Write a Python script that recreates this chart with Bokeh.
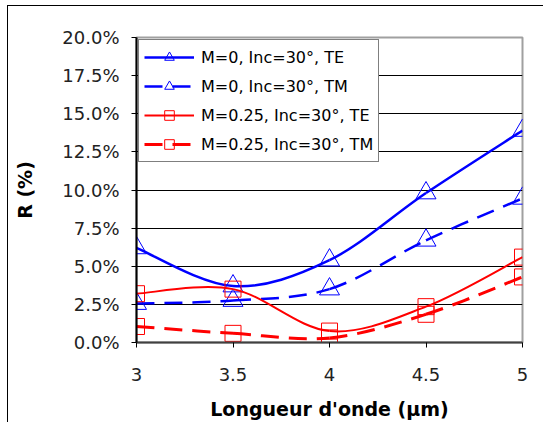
from bokeh.plotting import figure
from bokeh.models import FixedTicker, CustomJSTickFormatter, Legend, LegendItem, ColumnDataSource
from bokeh.embed import file_html
from bokeh.resources import INLINE

wavelength = [3, 3.5, 4, 4.5, 5]
m0_te = [6.2, 3.7, 5.4, 9.8, 13.9]
m0_tm = [2.55, 2.75, 3.5, 6.7, 9.45]
m25_te = [3.2, 3.5, 0.75, 2.35, 5.6]
m25_tm = [1.05, 0.6, 0.3, 1.85, 4.3]
y_ticks = [0, 2.5, 5, 7.5, 10, 12.5, 15, 17.5, 20]
x_ticks = [3, 3.5, 4, 4.5, 5]
labels = ["M=0, Inc=30°, TE", "M=0, Inc=30°, TM", "M=0.25, Inc=30°, TE", "M=0.25, Inc=30°, TM"]

FONT = "DejaVu Sans"

p = figure(width=536, height=417, x_range=(3, 5), y_range=(0, 20),
           output_backend="svg", toolbar_location=None,
           min_border_left=128, min_border_right=22, min_border_top=31, min_border_bottom=81)
p.styles = {"margin-left": "7px", "margin-top": "5px",
            "border-top": "1px solid black", "border-left": "1px solid black"}

p.outline_line_color = "#a0a0a0"
p.outline_line_width = 2
p.xgrid.visible = False
p.ygrid.grid_line_color = "black"
p.ygrid.grid_line_width = 1
p.ygrid.ticker = FixedTicker(ticks=y_ticks)

p.yaxis.ticker = FixedTicker(ticks=y_ticks)
p.yaxis.formatter = CustomJSTickFormatter(code="return tick.toFixed(1) + '%';")
p.xaxis.ticker = FixedTicker(ticks=x_ticks)
p.xaxis.formatter = CustomJSTickFormatter(code="return String(tick);")

for ax in (p.xaxis[0], p.yaxis[0]):
    ax.major_label_text_font = FONT
    ax.major_label_text_font_size = "18px"
    ax.major_label_text_color = "#222222"
    ax.axis_label_text_font = FONT
    ax.axis_label_text_font_style = "bold"
    ax.axis_label_text_font_size = "19px"
    ax.axis_label_text_color = "black"
    ax.major_tick_out = 5
    ax.major_tick_in = 0
    ax.minor_tick_out = 0
    ax.minor_tick_in = 0
    ax.axis_line_width = 2
    ax.major_tick_line_width = 1

p.xaxis.axis_label = "Longueur d'onde (µm)"
p.yaxis.axis_label = "R (%)"
p.yaxis.axis_line_color = "black"
p.xaxis.axis_line_color = "#404040"
p.yaxis.major_label_standoff = 12
p.xaxis.major_label_standoff = 20
p.yaxis.axis_label_standoff = 23
p.xaxis.axis_label_standoff = 14


def bezier_source(xs, ys):
    n = len(xs)
    d = dict(x0=[], y0=[], x1=[], y1=[], cx0=[], cy0=[], cx1=[], cy1=[])
    for i in range(n - 1):
        i0 = max(i - 1, 0)
        i3 = min(i + 2, n - 1)
        d["x0"].append(xs[i]); d["y0"].append(ys[i])
        d["x1"].append(xs[i + 1]); d["y1"].append(ys[i + 1])
        d["cx0"].append(xs[i] + (xs[i + 1] - xs[i0]) / 6)
        d["cy0"].append(ys[i] + (ys[i + 1] - ys[i0]) / 6)
        d["cx1"].append(xs[i + 1] - (xs[i3] - xs[i]) / 6)
        d["cy1"].append(ys[i + 1] - (ys[i3] - ys[i]) / 6)
    return ColumnDataSource(d)


series = [
    (m0_te, "#0000ff", "solid", "triangle", 2.5, 20),
    (m0_tm, "#0000ff", "18 10", "triangle", 2.5, 20),
    (m25_te, "#ff0000", "solid", "square", 2, 16),
    (m25_tm, "#ff0000", "18 10", "square", 3, 16),
]

items = []
for (ys, color, dash, marker, lw, ms), lab in zip(series, labels):
    src = bezier_source(wavelength, ys)
    p.bezier(x0="x0", y0="y0", x1="x1", y1="y1", cx0="cx0", cy0="cy0", cx1="cx1", cy1="cy1",
             source=src, line_color=color, line_width=lw, line_dash=dash)
    ln = p.line(wavelength, ys, line_color=color, line_width=lw, line_dash=dash)
    ln.visible = False
    sc = p.scatter(wavelength, ys, marker=marker, size=ms, line_color=color, line_width=1,
                   fill_alpha=0)
    items.append(LegendItem(label=lab, renderers=[ln, sc]))

legend = Legend(items=items, location="top_left", margin=2,
                glyph_width=50, glyph_height=24, label_height=24, spacing=5, label_standoff=7,
                padding=5, label_text_font=FONT, label_text_font_size="16px",
                label_text_color="black", border_line_color="black", border_line_width=1,
                background_fill_color="white", background_fill_alpha=1.0)
p.add_layout(legend, "center")

open("out.html", "w").write(file_html(p, INLINE))
